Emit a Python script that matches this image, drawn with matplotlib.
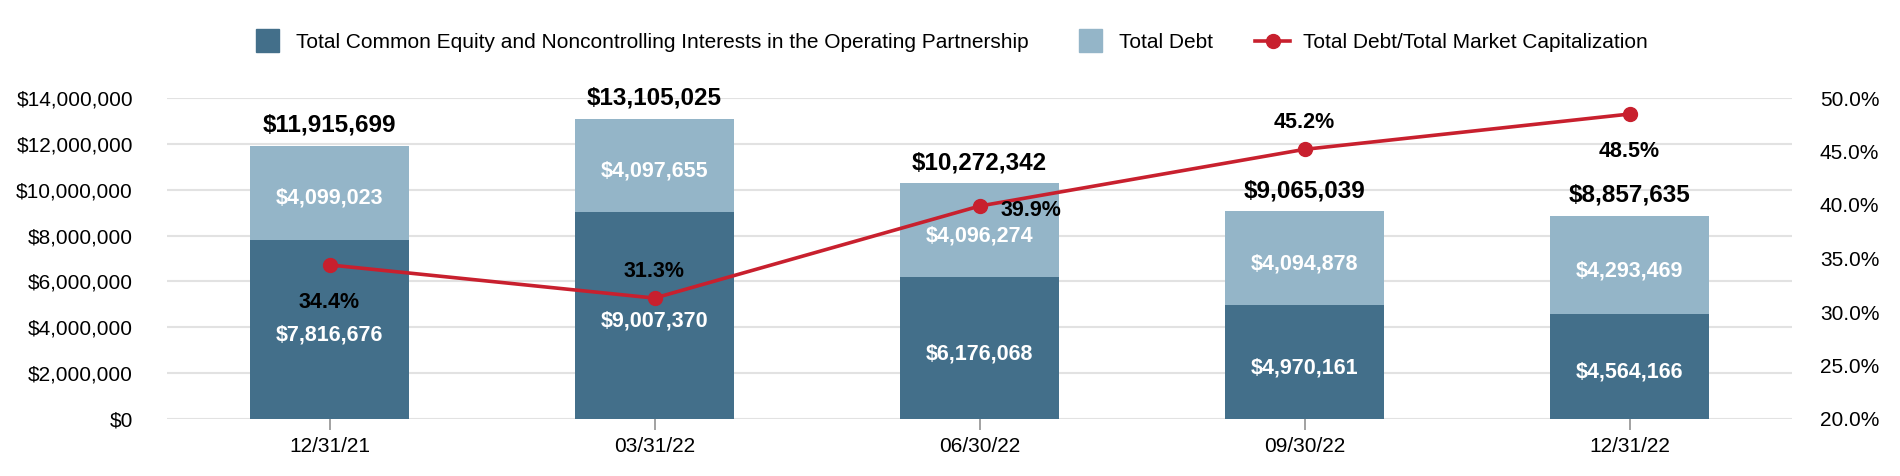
import matplotlib
matplotlib.use("Agg")
import matplotlib.pyplot as plt
import matplotlib.patches as mpatches
from matplotlib.lines import Line2D
from matplotlib.legend_handler import HandlerPatch
from matplotlib.ticker import FuncFormatter, MultipleLocator

plt.rcParams["font.family"] = ["Liberation Sans", "DejaVu Sans"]

# data
dates = ["12/31/21", "03/31/22", "06/30/22", "09/30/22", "12/31/22"]
equity = [7816676, 9007370, 6176068, 4970161, 4564166]
debt = [4099023, 4097655, 4096274, 4094878, 4293469]
totals = [11915699, 13105025, 10272342, 9065039, 8857635]
ratio = [34.4, 31.3, 39.9, 45.2, 48.5]
ratio_pos = ["below", "above", "right", "above", "below"]

dark = "#436f8a"
light = "#94b5c8"
red = "#c8202e"
px = 0.72  # pixels -> points at dpi 100

fig = plt.figure(figsize=(19, 4.76), dpi=100)
ax = fig.add_axes([167 / 1900, 1 - 419 / 476, (1792 - 167) / 1900, (419 - 98) / 476])
x = list(range(len(dates)))

ax.bar(x, equity, width=0.492, color=dark, zorder=2)
ax.bar(x, debt, width=0.492, bottom=equity, color=light, zorder=2)

ax.set_xlim(-0.5, len(dates) - 0.5)
ax.set_ylim(0, 14000000)
ax.yaxis.set_major_locator(MultipleLocator(2000000))
ax.yaxis.set_major_formatter(FuncFormatter(lambda v, p: "${:,.0f}".format(v)))
ax.set_xticks(x, dates)
ax.grid(axis="y", color="#e2e2e2", linewidth=1.5)
ax.set_axisbelow(True)
for s in ax.spines.values():
    s.set_visible(False)
ax.tick_params(axis="y", length=0, pad=24.5, labelsize=15)
ax.tick_params(axis="x", length=8, width=1.1, color="#888888", pad=5, labelsize=15)

# segment and total labels
for i in x:
    ax.annotate("${:,}".format(equity[i]), (i, equity[i] / 2), xytext=(0, -3 * px),
                textcoords="offset points", ha="center", va="center_baseline",
                color="white", fontsize=15.5, fontweight="bold", zorder=3)
    ax.annotate("${:,}".format(debt[i]), (i, equity[i] + debt[i] / 2), xytext=(0, -3 * px),
                textcoords="offset points", ha="center", va="center_baseline",
                color="white", fontsize=15.5, fontweight="bold", zorder=3)
    ax.annotate("${:,}".format(totals[i]), (i, totals[i]), xytext=(0, 23 * px),
                textcoords="offset points", ha="center", va="center_baseline",
                color="black", fontsize=17.5, fontweight="bold")

# ratio line on right axis
ax2 = ax.twinx()
ax2.plot(x, ratio, color=red, linewidth=2.6, marker="o", markersize=10, zorder=4)
ax2.set_ylim(20, 50)
ax2.yaxis.set_major_locator(MultipleLocator(5))
ax2.yaxis.set_major_formatter(FuncFormatter(lambda v, p: "{:.1f}%".format(v)))
ax2.tick_params(axis="y", length=0, pad=20, labelsize=15)
for s in ax2.spines.values():
    s.set_visible(False)

offsets = {"below": (0, -35, "center"), "above": (0, 29, "center"), "right": (21, -2, "left")}
for i in x:
    dx, dy, ha = offsets[ratio_pos[i]]
    ax2.annotate("{:.1f}%".format(ratio[i]), (i, ratio[i]), xytext=(dx * px, dy * px),
                 textcoords="offset points", ha=ha, va="center_baseline",
                 color="black", fontsize=15.5, fontweight="bold", zorder=5)


# legend with small squares for the bars
def square(legend, orig_handle, xdescent, ydescent, width, height, fontsize):
    s = 16
    return mpatches.Rectangle((width - xdescent - s - 3, -ydescent + height / 2 - s / 2), s, s)


handles = [mpatches.Patch(color=dark), mpatches.Patch(color=light),
           Line2D([], [], color=red, linewidth=2.6, marker="o", markersize=10)]
labels = ["Total Common Equity and Noncontrolling Interests in the Operating Partnership",
          "Total Debt", "Total Debt/Total Market Capitalization"]
fig.legend(handles, labels, loc="center", bbox_to_anchor=(0.4988, 0.911), ncol=3,
           frameon=False, fontsize=15, handlelength=1.69, handletextpad=0.62,
           columnspacing=2.03, handler_map={mpatches.Patch: HandlerPatch(patch_func=square)})

fig.savefig("out.png", dpi=100)
